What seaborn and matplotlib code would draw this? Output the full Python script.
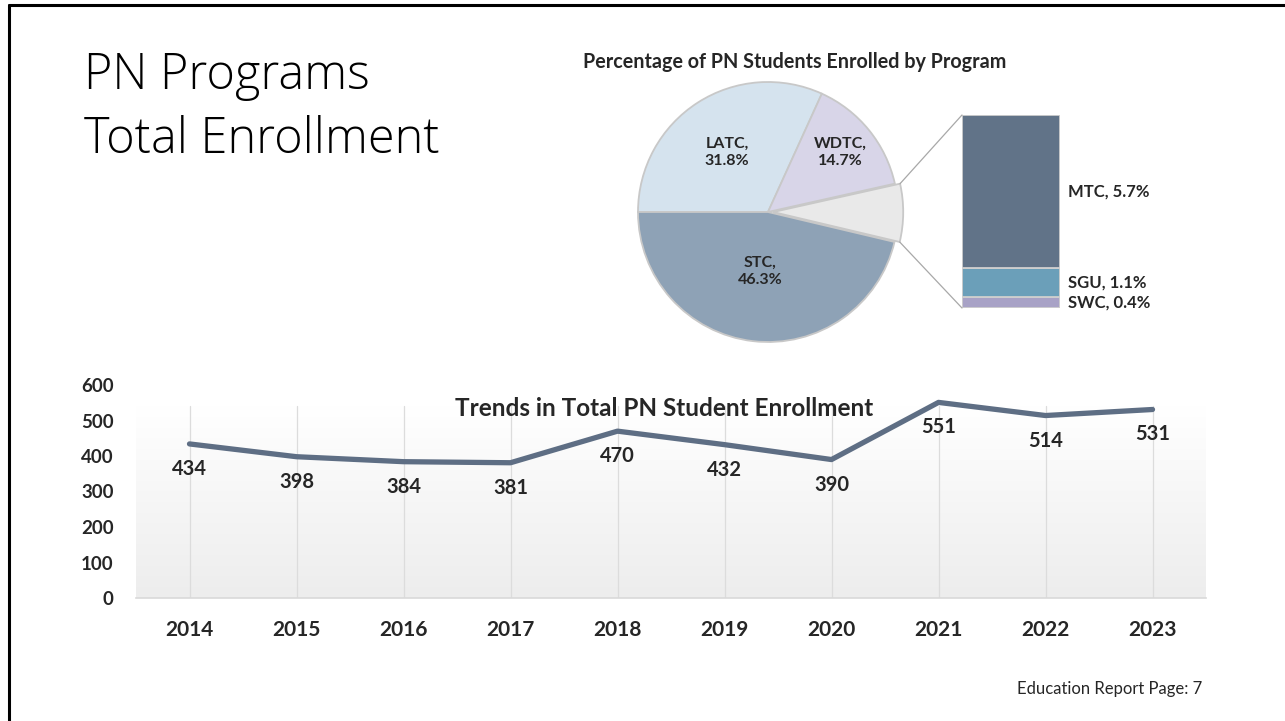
import numpy as np
import pandas as pd
import matplotlib.pyplot as plt
import seaborn as sns
from matplotlib.colors import LinearSegmentedColormap
from matplotlib.patches import ConnectionPatch
from matplotlib.lines import Line2D

# data
years = ['2014', '2015', '2016', '2017', '2018', '2019', '2020', '2021', '2022', '2023']
enrollment = [434, 398, 384, 381, 470, 432, 390, 551, 514, 531]

pie_labels = ['LATC', 'WDTC', 'Other', 'STC']
pie_pct = [31.8, 14.7, 7.2, 46.3]
pie_colors = ['#d5e3ee', '#d8d5e8', '#e9e9e9', '#8ea2b6']

bar_labels = ['SWC', 'SGU', 'MTC']
bar_pct = [0.4, 1.1, 5.7]
bar_colors = ['#a8a2c6', '#6b9fb9', '#617388']

sns.set_theme(style='white')
plt.rcParams['font.family'] = ['Lato', 'DejaVu Sans']

W, H = 1285, 721
fig = plt.figure(figsize=(W / 100, H / 100), dpi=100)
fig.patch.set_facecolor('white')


def box(x0, y0, x1, y1):
    # pixel box (top-left origin) -> figure fraction rect
    return [x0 / W, 1 - y1 / H, (x1 - x0) / W, (y1 - y0) / H]


def fx(x):
    return x / W


def fy(y):
    return 1 - y / H


# slide frame (top and left only)
fig.add_artist(Line2D([fx(9), 1], [fy(5), fy(5)], color='black', lw=2.2))
fig.add_artist(Line2D([fx(9), fx(9)], [fy(5), 0], color='black', lw=2.2))

# slide title
title_font = dict(fontsize=35, fontweight='light', color='black', va='baseline',
                  family=['Open Sans', 'DejaVu Sans'])
fig.text(fx(84), fy(89), 'PN Programs', **title_font)
fig.text(fx(84), fy(153), 'Total Enrollment', **title_font)

# ---- pie ----
pie_ax = fig.add_axes(box(638, 82, 898, 342))
explode = [0, 0, 0.04, 0]
wedges, _ = pie_ax.pie(pie_pct, colors=pie_colors, startangle=180, counterclock=False,
                       explode=explode, wedgeprops=dict(edgecolor='#c8c8c8', linewidth=1.3))
for w in wedges:
    w.set_clip_on(False)
pie_ax.set_xlim(-1, 1)
pie_ax.set_ylim(-1, 1)
pie_ax.set_aspect('equal')
pie_ax.axis('off')

fig.text(fx(795), fy(62), 'Percentage of PN Students Enrolled by Program', fontsize=14.2,
         fontweight='bold', ha='center', va='center')
fig.text(fx(727), fy(152), 'LATC,\n31.8%', fontsize=11.5, fontweight='bold', ha='center', va='center',
         linespacing=1.3)
fig.text(fx(840), fy(152), 'WDTC,\n14.7%', fontsize=11.5, fontweight='bold', ha='center', va='center',
         linespacing=1.3)
fig.text(fx(760), fy(271), 'STC,\n46.3%', fontsize=11.5, fontweight='bold', ha='center', va='center',
         linespacing=1.3)

# ---- bar of pie ----
bar_ax = fig.add_axes(box(962, 115, 1060, 308))
bottom = 0
for lab, val, col in zip(bar_labels, bar_pct, bar_colors):
    bar_ax.bar(0, val, bottom=bottom, width=1, color=col, edgecolor='#cfcfcf', linewidth=1.3)
    bar_ax.text(0.58, bottom + val / 2, f'{lab}, {val}%', fontsize=12, fontweight='bold',
                ha='left', va='center')
    bottom += val
bar_ax.set_xlim(-0.5, 0.5)
bar_ax.set_ylim(0, sum(bar_pct))
bar_ax.axis('off')

# connector lines from the "Other" wedge to the bar
other_start = 180 - 3.6 * (pie_pct[0] + pie_pct[1])
other_end = other_start - 3.6 * pie_pct[2]
mid = np.deg2rad((other_start + other_end) / 2)
shift = np.array([np.cos(mid), np.sin(mid)]) * explode[2]
for ang, yb in [(other_start, sum(bar_pct)), (other_end, 0)]:
    a = np.deg2rad(ang)
    p = np.array([np.cos(a), np.sin(a)]) + shift
    con = ConnectionPatch(xyA=tuple(p), coordsA=pie_ax.transData, xyB=(-0.5, yb),
                          coordsB=bar_ax.transData, color='#a8a8a8', lw=0.9)
    fig.add_artist(con)

# ---- line chart ----
df = pd.DataFrame({'idx': np.arange(len(years)), 'year': years, 'n': enrollment})
ax = fig.add_axes(box(136, 385, 1206, 598))
grad = np.linspace(0, 1, 256).reshape(-1, 1)
cmap = LinearSegmentedColormap.from_list('bg', ['#ededed', '#ffffff'])
ax.imshow(grad, extent=(-0.5, len(years) - 0.5, 0, 540), origin='lower', aspect='auto',
          cmap=cmap, zorder=0)
sns.lineplot(data=df, x='idx', y='n', ax=ax, color='#5e6e84', linewidth=3.8, zorder=3)
for i, v in enumerate(enrollment):
    ax.annotate(str(v), (i, v), xytext=(0, -18), textcoords='offset points', ha='center',
                va='center', fontsize=14.5, fontweight='bold', zorder=4)
ax.set_xlim(-0.5, len(years) - 0.5)
ax.set_ylim(0, 600)
ax.set_yticks(range(0, 601, 100))
ax.set_xticks(df['idx'])
ax.set_xticklabels(years)
for i in df['idx']:
    ax.axvline(i, ymax=540 / 600, color='#dcdcdc', lw=0.9, zorder=1)
ax.tick_params(axis='both', length=0)
ax.tick_params(axis='y', pad=16, labelsize=13.5)
ax.tick_params(axis='x', pad=16, labelsize=15)
for lbl in ax.get_xticklabels() + ax.get_yticklabels():
    lbl.set_fontweight('bold')
ax.set_xlabel('')
ax.set_ylabel('')
ax.set_facecolor('none')
for s in ['top', 'right', 'left']:
    ax.spines[s].set_visible(False)
ax.spines['bottom'].set_color('#d9d9d9')
ax.spines['bottom'].set_linewidth(1.2)
ax.grid(False)

fig.text(fx(664), fy(408), 'Trends in Total PN Student Enrollment', fontsize=17.5,
         fontweight='bold', ha='center', va='center')

fig.text(fx(1202), fy(689), 'Education Report Page: 7', fontsize=12, ha='right', va='center')

fig.savefig('out.png', dpi=100, facecolor='white')
